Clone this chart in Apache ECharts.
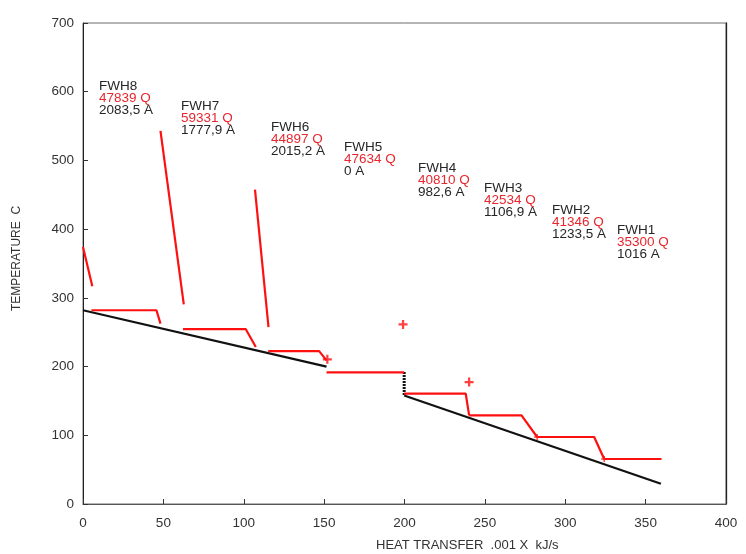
<!DOCTYPE html>
<html>
<head>
<meta charset="utf-8">
<title>Feedwater heater temperature profile</title>
<script src="https://cdn.jsdelivr.net/npm/echarts@6/dist/echarts.min.js"></script>
<style>
  html, body { margin: 0; padding: 0; background: #fff; }
  #chart { width: 746px; height: 554px; }
</style>
</head>
<body>
<div id="chart"></div>
<script>
// Axis ranges and ticks
const xTicks = [0, 50, 100, 150, 200, 250, 300, 350, 400];
const yTicks = [0, 100, 200, 300, 400, 500, 600, 700];

// Feedwater temperature line (heat transfer .001 x kJ/s, temperature C)
const feedLow = [[0, 282], [151.5, 200]];
const feedStep = [[199.8, 192], [199.8, 158]];
const feedHigh = [[199.8, 158], [359.5, 29.4]];

// Extraction steam desuperheating lines
const steam8 = [[0, 374], [5.8, 317]];
const steam7 = [[48.2, 543], [62.7, 290.6]];
const steam6 = [[107, 457.6], [115.4, 257.5]];

// Condensing + drain cooling lines of each heater
const heater8 = [[5.2, 282], [45.7, 282], [48.2, 262.5]];
const heater7 = [[62.2, 254.6], [101.2, 254.6], [107.5, 228.4]];
const heater6 = [[115.2, 222.5], [146.9, 222.5], [151.5, 209]];
const heater5 = [[151.5, 191.5], [199.8, 191.5]];
const heater4 = [[199.8, 160.5], [238.1, 160.5], [240.2, 129]];
const heater3 = [[240.2, 129], [272.8, 129], [282.5, 97.5]];
const heater2 = [[282.5, 97.5], [318, 97.5], [324.2, 65.5]];
const heater1 = [[324.2, 65.5], [359.9, 65.5]];

// Extraction state points
const pointsLarge = [[152, 210.5], [199.1, 261.4], [240.2, 177.4]];
const pointsSmall = [[282.5, 97.5], [324.2, 65.5]];

// Heater annotations
const heaterNames = ['FWH8', 'FWH7', 'FWH6', 'FWH5', 'FWH4', 'FWH3', 'FWH2', 'FWH1'];
const heaterQ = ['47839 Q', '59331 Q', '44897 Q', '47634 Q', '40810 Q', '42534 Q', '41346 Q', '35300 Q'];
const heaterA = ['2083,5 A', '1777,9 A', '2015,2 A', '0 A', '982,6 A', '1106,9 A', '1233,5 A', '1016 A'];

// Layout: top-left pixel of each annotation block
const labelAnchors = [[99, 79], [181, 99], [271, 120], [344, 140], [418, 161], [484, 181], [552, 203], [617, 223]];

const FONT = '"Liberation Sans", Arial, sans-serif';
const FS = 13.5;
const RED = '#ff1010';
const LABEL_RED = '#e8262e';
const INK = '#262626';

const chart = echarts.init(document.getElementById('chart'), null, { renderer: 'canvas' });

function redLine(data) {
  return {
    type: 'line', data: data, symbol: 'none', silent: true, animation: false,
    lineStyle: { color: RED, width: 2.2 }, z: 3
  };
}
function blackLine(data, dashed) {
  return {
    type: 'line', data: data, symbol: 'none', silent: true, animation: false,
    lineStyle: { color: '#111', width: dashed ? 3 : 2.2, type: dashed ? [2, 1] : 'solid' }, z: 2
  };
}
const plusPath = 'path://M3,0H5V3H8V5H5V8H3V5H0V3H3Z';

const graphics = heaterNames.map(function (name, i) {
  return {
    type: 'text',
    left: labelAnchors[i][0],
    top: labelAnchors[i][1],
    silent: true,
    style: {
      text: '{n|' + name + '}\n{q|' + heaterQ[i] + '}\n{a|' + heaterA[i] + '}',
      font: FS + 'px ' + FONT,
      rich: {
        n: { fill: INK, fontFamily: FONT, fontSize: FS, lineHeight: 12 },
        q: { fill: LABEL_RED, fontFamily: FONT, fontSize: FS, lineHeight: 12 },
        a: { fill: INK, fontFamily: FONT, fontSize: FS, lineHeight: 12 }
      }
    }
  };
});
graphics.push({
  type: 'text',
  left: 376, top: 539,
  silent: true,
  style: {
    text: 'HEAT TRANSFER  .001 X  kJ/s',
    font: '13px ' + FONT,
    fill: '#333',
    textAlign: 'center'
  }
});

chart.setOption({
  animation: false,
  backgroundColor: '#fff',
  grid: {
    left: 83, right: 20, top: 23, bottom: 50,
    show: true, borderColor: '#6a6a6a', borderWidth: 1, backgroundColor: 'transparent'
  },
  xAxis: {
    type: 'value', min: xTicks[0], max: xTicks[xTicks.length - 1], interval: 50,
    axisLine: { show: true, lineStyle: { color: '#555', width: 1 } },
    axisTick: { show: true, inside: true, length: 5, lineStyle: { color: '#333' } },
    axisLabel: { color: '#333', fontFamily: FONT, fontSize: FS, margin: 12 },
    splitLine: { show: false }
  },
  yAxis: [{
    type: 'value', min: yTicks[0], max: yTicks[yTicks.length - 1], interval: 100,
    name: 'TEMPERATURE  C', nameLocation: 'middle', nameGap: 60,
    nameTextStyle: { color: '#333', fontFamily: FONT, fontSize: 12, padding: [0, 0, 0, 10] },
    axisLine: { show: true, lineStyle: { color: '#222', width: 1 } },
    axisTick: { show: true, inside: true, length: 5, lineStyle: { color: '#333' } },
    axisLabel: { color: '#333', fontFamily: FONT, fontSize: FS, margin: 9, padding: [0, 0, 3, 0] },
    splitLine: { show: false }
  }, {
    type: 'value', min: yTicks[0], max: yTicks[yTicks.length - 1], position: 'right',
    axisLine: { show: true, lineStyle: { color: '#222', width: 1.3 } },
    axisTick: { show: false }, axisLabel: { show: false }, splitLine: { show: false }
  }],
  graphic: graphics,
  series: [
    blackLine(feedLow, false),
    blackLine(feedStep, true),
    blackLine(feedHigh, false),
    redLine(steam8), redLine(steam7), redLine(steam6),
    redLine(heater8), redLine(heater7), redLine(heater6), redLine(heater5),
    redLine(heater4), redLine(heater3), redLine(heater2), redLine(heater1),
    {
      type: 'scatter', data: pointsLarge, symbol: plusPath, symbolSize: 9,
      itemStyle: { color: RED }, silent: true, z: 4
    },
    {
      type: 'scatter', data: pointsSmall, symbol: plusPath, symbolSize: 6,
      itemStyle: { color: RED }, silent: true, z: 4
    }
  ]
});
</script>
</body>
</html>
